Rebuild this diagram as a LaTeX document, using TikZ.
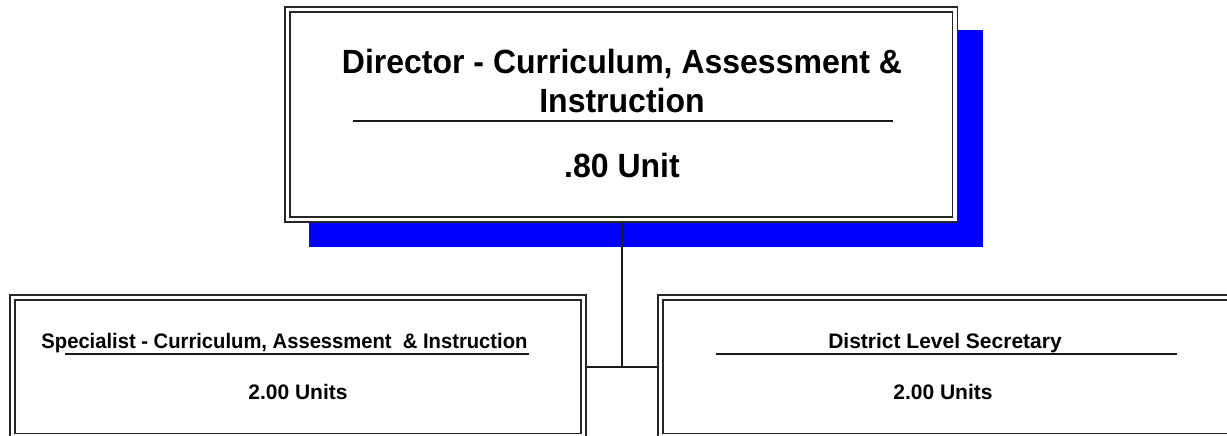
\documentclass[tikz,border=0pt]{standalone}
\usepackage{fontspec}
\setmainfont{Liberation Sans}
\begin{document}
\begin{tikzpicture}[x=1pt,y=-1pt,
  box/.style={draw=black!85, line width=1.3pt, double=white, double distance=3.7pt,
    rectangle, inner sep=0pt, outer sep=3.15pt, fill=white},
  big/.style={font=\fontsize{32}{36}\selectfont\bfseries, anchor=base, inner sep=0pt},
  small/.style={font=\fontsize{21}{24}\selectfont\bfseries, anchor=base, inner sep=0pt},
  conn/.style={draw=black!90, line width=1.3pt},
  rule/.style={draw=black!90, line width=1.2pt}]
\useasboundingbox (0,0) rectangle (1227,436);
\clip (0,0) rectangle (1227,436);
\fill[white] (0,0) rectangle (1227,436);
% shadow
\fill[blue] (309,30) rectangle (983,247);
% boxes
\node[box, minimum width=667.5pt, minimum height=210pt] (dir) at (621.25,114.5) {};
\node[box, minimum width=571pt, minimum height=138.5pt] (spec) at (298,366.75) {};
\node[box, minimum width=571pt, minimum height=138.5pt] (sec) at (946,366.75) {};
% texts
\node[big] (t1) at (622,74) {\scalebox{1}[1.05]{Director - Curriculum, Assessment \&}};
\node[big] (t2) at (622,113) {\scalebox{1}[1.05]{Instruction}};
\draw[rule] (353,121) -- (893,121);
\node[big] (t3) at (622,177) {\scalebox{1}[1.05]{.80 Unit}};
\node[small] (s1) at (284.5,348) {\scalebox{0.962}[1]{Specialist - Curriculum, Assessment\ \ \& Instruction}};
\draw[rule] (65,354) -- (529,354);
\node[small] (s2) at (298,399) {2.00 Units};
\node[small] (d1) at (945,348) {District Level Secretary};
\draw[rule] (716,354) -- (1177,354);
\node[small] (d2) at (943,399) {2.00 Units};
% connectors
\coordinate (j) at (622,367);
\draw[conn] (dir.south -| j) -- (j);
\draw[conn] (spec.east |- j) -- (sec.west |- j);
\end{tikzpicture}
\end{document}
